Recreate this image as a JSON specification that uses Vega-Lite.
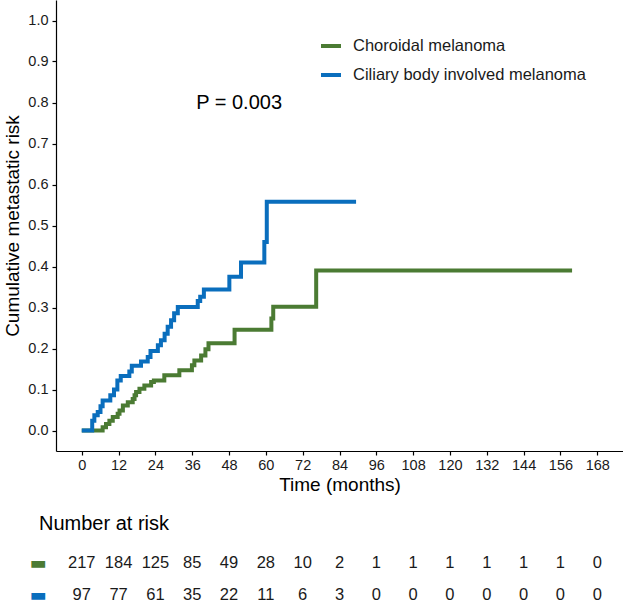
{
  "$schema": "https://vega.github.io/schema/vega-lite/v6.json",
  "padding": {"left": 3, "top": 0, "right": 0, "bottom": 0},
  "config": {
    "font": "Liberation Sans",
    "view": {"stroke": null},
    "axis": {"domainColor": "#000000", "domainWidth": 1.2, "tickColor": "#000000", "tickWidth": 1.2, "tickSize": 4, "labelColor": "#1a1a1a", "labelFontSize": 14.5, "titleFontSize": 19, "titleFontWeight": "normal", "titleColor": "#000000", "grid": false},
    "text": {"font": "Liberation Sans"}
  },
  "datasets": {
    "curves": [
      {"group": "Choroidal melanoma", "time": 0, "risk": 0},
      {"group": "Choroidal melanoma", "time": 6.8, "risk": 0.008},
      {"group": "Choroidal melanoma", "time": 7.9, "risk": 0.016},
      {"group": "Choroidal melanoma", "time": 9.0, "risk": 0.024},
      {"group": "Choroidal melanoma", "time": 10.1, "risk": 0.033},
      {"group": "Choroidal melanoma", "time": 11.7, "risk": 0.041},
      {"group": "Choroidal melanoma", "time": 12.3, "risk": 0.049},
      {"group": "Choroidal melanoma", "time": 13.4, "risk": 0.061},
      {"group": "Choroidal melanoma", "time": 15.0, "risk": 0.069},
      {"group": "Choroidal melanoma", "time": 16.6, "risk": 0.077},
      {"group": "Choroidal melanoma", "time": 17.2, "risk": 0.086},
      {"group": "Choroidal melanoma", "time": 17.7, "risk": 0.094},
      {"group": "Choroidal melanoma", "time": 18.8, "risk": 0.102},
      {"group": "Choroidal melanoma", "time": 20.4, "risk": 0.110},
      {"group": "Choroidal melanoma", "time": 22.6, "risk": 0.118},
      {"group": "Choroidal melanoma", "time": 23.5, "risk": 0.122},
      {"group": "Choroidal melanoma", "time": 26.9, "risk": 0.135},
      {"group": "Choroidal melanoma", "time": 31.8, "risk": 0.147},
      {"group": "Choroidal melanoma", "time": 35.9, "risk": 0.159},
      {"group": "Choroidal melanoma", "time": 36.7, "risk": 0.171},
      {"group": "Choroidal melanoma", "time": 38.9, "risk": 0.183},
      {"group": "Choroidal melanoma", "time": 40.3, "risk": 0.198},
      {"group": "Choroidal melanoma", "time": 41.3, "risk": 0.213},
      {"group": "Choroidal melanoma", "time": 49.8, "risk": 0.246},
      {"group": "Choroidal melanoma", "time": 61.8, "risk": 0.273},
      {"group": "Choroidal melanoma", "time": 62.4, "risk": 0.302},
      {"group": "Choroidal melanoma", "time": 76.4, "risk": 0.390},
      {"group": "Choroidal melanoma", "time": 159.8, "risk": 0.390},
      {"group": "Ciliary body involved melanoma", "time": 0, "risk": 0},
      {"group": "Ciliary body involved melanoma", "time": 3.4, "risk": 0.024},
      {"group": "Ciliary body involved melanoma", "time": 4.1, "risk": 0.037},
      {"group": "Ciliary body involved melanoma", "time": 5.2, "risk": 0.045},
      {"group": "Ciliary body involved melanoma", "time": 6.1, "risk": 0.059},
      {"group": "Ciliary body involved melanoma", "time": 6.8, "risk": 0.073},
      {"group": "Ciliary body involved melanoma", "time": 9.3, "risk": 0.086},
      {"group": "Ciliary body involved melanoma", "time": 10.5, "risk": 0.100},
      {"group": "Ciliary body involved melanoma", "time": 11.6, "risk": 0.122},
      {"group": "Ciliary body involved melanoma", "time": 12.7, "risk": 0.133},
      {"group": "Ciliary body involved melanoma", "time": 15.5, "risk": 0.144},
      {"group": "Ciliary body involved melanoma", "time": 16.3, "risk": 0.158},
      {"group": "Ciliary body involved melanoma", "time": 19.3, "risk": 0.168},
      {"group": "Ciliary body involved melanoma", "time": 21.5, "risk": 0.179},
      {"group": "Ciliary body involved melanoma", "time": 22.4, "risk": 0.194},
      {"group": "Ciliary body involved melanoma", "time": 24.8, "risk": 0.208},
      {"group": "Ciliary body involved melanoma", "time": 25.8, "risk": 0.220},
      {"group": "Ciliary body involved melanoma", "time": 27.0, "risk": 0.236},
      {"group": "Ciliary body involved melanoma", "time": 28.0, "risk": 0.253},
      {"group": "Ciliary body involved melanoma", "time": 29.1, "risk": 0.269},
      {"group": "Ciliary body involved melanoma", "time": 30.1, "risk": 0.286},
      {"group": "Ciliary body involved melanoma", "time": 31.3, "risk": 0.301},
      {"group": "Ciliary body involved melanoma", "time": 37.8, "risk": 0.316},
      {"group": "Ciliary body involved melanoma", "time": 38.6, "risk": 0.326},
      {"group": "Ciliary body involved melanoma", "time": 39.8, "risk": 0.344},
      {"group": "Ciliary body involved melanoma", "time": 48.1, "risk": 0.375},
      {"group": "Ciliary body involved melanoma", "time": 51.9, "risk": 0.410},
      {"group": "Ciliary body involved melanoma", "time": 59.5, "risk": 0.460},
      {"group": "Ciliary body involved melanoma", "time": 60.3, "risk": 0.558},
      {"group": "Ciliary body involved melanoma", "time": 89.4, "risk": 0.558}
    ],
    "risk": [
      {"group": "Choroidal melanoma", "time": 0, "n": 217},
      {"group": "Choroidal melanoma", "time": 12, "n": 184},
      {"group": "Choroidal melanoma", "time": 24, "n": 125},
      {"group": "Choroidal melanoma", "time": 36, "n": 85},
      {"group": "Choroidal melanoma", "time": 48, "n": 49},
      {"group": "Choroidal melanoma", "time": 60, "n": 28},
      {"group": "Choroidal melanoma", "time": 72, "n": 10},
      {"group": "Choroidal melanoma", "time": 84, "n": 2},
      {"group": "Choroidal melanoma", "time": 96, "n": 1},
      {"group": "Choroidal melanoma", "time": 108, "n": 1},
      {"group": "Choroidal melanoma", "time": 120, "n": 1},
      {"group": "Choroidal melanoma", "time": 132, "n": 1},
      {"group": "Choroidal melanoma", "time": 144, "n": 1},
      {"group": "Choroidal melanoma", "time": 156, "n": 1},
      {"group": "Choroidal melanoma", "time": 168, "n": 0},
      {"group": "Ciliary body involved melanoma", "time": 0, "n": 97},
      {"group": "Ciliary body involved melanoma", "time": 12, "n": 77},
      {"group": "Ciliary body involved melanoma", "time": 24, "n": 61},
      {"group": "Ciliary body involved melanoma", "time": 36, "n": 35},
      {"group": "Ciliary body involved melanoma", "time": 48, "n": 22},
      {"group": "Ciliary body involved melanoma", "time": 60, "n": 11},
      {"group": "Ciliary body involved melanoma", "time": 72, "n": 6},
      {"group": "Ciliary body involved melanoma", "time": 84, "n": 3},
      {"group": "Ciliary body involved melanoma", "time": 96, "n": 0},
      {"group": "Ciliary body involved melanoma", "time": 108, "n": 0},
      {"group": "Ciliary body involved melanoma", "time": 120, "n": 0},
      {"group": "Ciliary body involved melanoma", "time": 132, "n": 0},
      {"group": "Ciliary body involved melanoma", "time": 144, "n": 0},
      {"group": "Ciliary body involved melanoma", "time": 156, "n": 0},
      {"group": "Ciliary body involved melanoma", "time": 168, "n": 0}
    ]
  },
  "spacing": 19,
  "vconcat": [
    {
      "width": 567,
      "height": 451,
      "layer": [
        {
          "data": {"name": "curves"},
          "mark": {"type": "line", "interpolate": "step-after", "strokeWidth": 4},
          "encoding": {
            "x": {"field": "time", "type": "quantitative", "scale": {"domain": [-8.4, 176.4], "nice": false, "zero": false},
                  "axis": {"title": "Time (months)", "values": [0, 12, 24, 36, 48, 60, 72, 84, 96, 108, 120, 132, 144, 156, 168], "labelPadding": 3, "titlePadding": 4, "labelFlush": false, "labelOverlap": false}},
            "y": {"field": "risk", "type": "quantitative", "scale": {"domain": [-0.05, 1.05], "nice": false, "zero": false},
                  "axis": {"title": "Cumulative metastatic risk", "values": [0, 0.1, 0.2, 0.3, 0.4, 0.5, 0.6, 0.7, 0.8, 0.9, 1.0], "format": ".1f", "labelPadding": 4, "titlePadding": 5, "labelFlush": false}},
            "color": {"field": "group", "type": "nominal",
                      "scale": {"domain": ["Choroidal melanoma", "Ciliary body involved melanoma"], "range": ["#4B7B33", "#0A6EBD"]},
                      "legend": {"title": null, "orient": "none", "legendX": 263, "legendY": 34, "symbolType": "stroke", "symbolStrokeWidth": 4, "symbolSize": 400, "labelFontSize": 16.5, "labelColor": "#1a1a1a", "labelLimit": 400, "rowPadding": 8, "labelOffset": 10}}
          }
        },
        {
          "data": {"values": [{"label": "P = 0.003", "time": 37.3, "risk": 0.8}]},
          "mark": {"type": "text", "align": "left", "baseline": "middle", "fontSize": 20, "color": "#000000"},
          "encoding": {
            "x": {"field": "time", "type": "quantitative"},
            "y": {"field": "risk", "type": "quantitative"},
            "text": {"field": "label"}
          }
        }
      ]
    },
    {
      "width": 567,
      "height": 64,
      "data": {"name": "risk"},
      "title": {"text": "Number at risk", "anchor": "start", "frame": "group", "fontSize": 20, "fontWeight": "normal", "color": "#000000", "dx": -17, "offset": 13},
      "mark": {"type": "text", "fontSize": 16.5, "color": "#1a1a1a", "baseline": "middle"},
      "encoding": {
        "x": {"field": "time", "type": "quantitative", "scale": {"domain": [-8.4, 176.4], "nice": false, "zero": false}, "axis": null},
        "y": {"field": "group", "type": "nominal", "scale": {"domain": ["Choroidal melanoma", "Ciliary body involved melanoma"]},
              "axis": {"title": null, "domain": false, "ticks": false, "labelExpr": "'▬'", "labelFont": "DejaVu Sans", "labelFontSize": 18, "labelPadding": 10,
                       "labelColor": {"condition": {"test": "datum.value == 'Choroidal melanoma'", "value": "#4B7B33"}, "value": "#0A6EBD"}}},
        "text": {"field": "n", "type": "quantitative"}
      }
    }
  ]
}
